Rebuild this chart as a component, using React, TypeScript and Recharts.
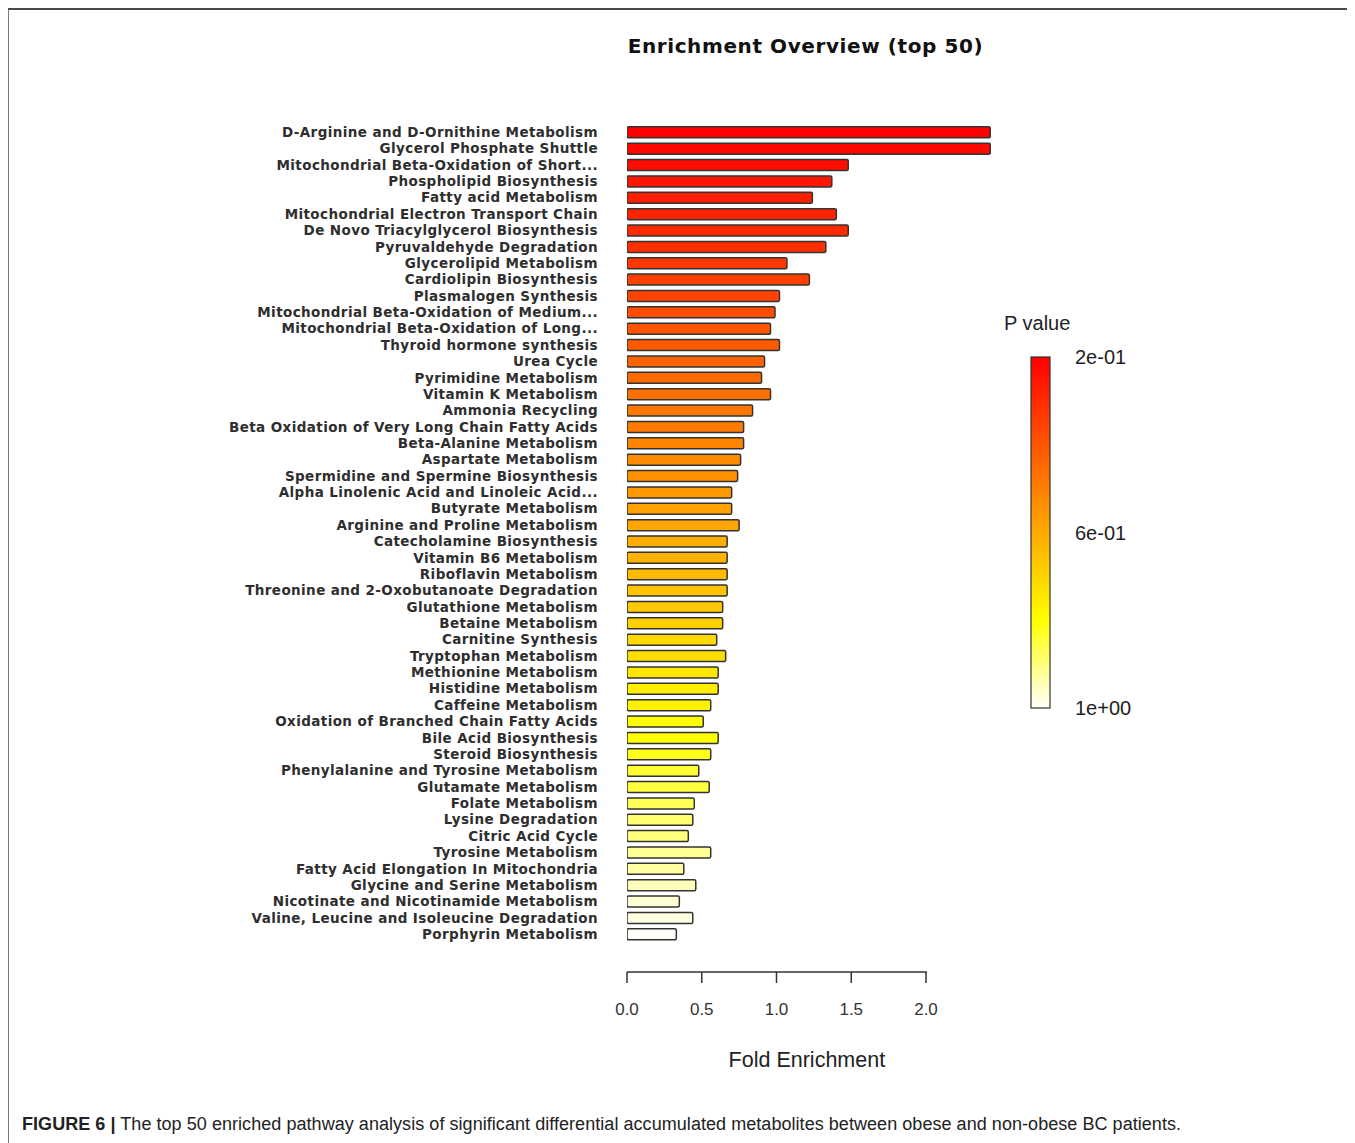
import React from 'react'
import { Bar, BarChart, Cell, XAxis, YAxis } from 'recharts'

const pathways = [
  'D-Arginine and D-Ornithine Metabolism',
  'Glycerol Phosphate Shuttle',
  'Mitochondrial Beta-Oxidation of Short...',
  'Phospholipid Biosynthesis',
  'Fatty acid Metabolism',
  'Mitochondrial Electron Transport Chain',
  'De Novo Triacylglycerol Biosynthesis',
  'Pyruvaldehyde Degradation',
  'Glycerolipid Metabolism',
  'Cardiolipin Biosynthesis',
  'Plasmalogen Synthesis',
  'Mitochondrial Beta-Oxidation of Medium...',
  'Mitochondrial Beta-Oxidation of Long...',
  'Thyroid hormone synthesis',
  'Urea Cycle',
  'Pyrimidine Metabolism',
  'Vitamin K Metabolism',
  'Ammonia Recycling',
  'Beta Oxidation of Very Long Chain Fatty Acids',
  'Beta-Alanine Metabolism',
  'Aspartate Metabolism',
  'Spermidine and Spermine Biosynthesis',
  'Alpha Linolenic Acid and Linoleic Acid...',
  'Butyrate Metabolism',
  'Arginine and Proline Metabolism',
  'Catecholamine Biosynthesis',
  'Vitamin B6 Metabolism',
  'Riboflavin Metabolism',
  'Threonine and 2-Oxobutanoate Degradation',
  'Glutathione Metabolism',
  'Betaine Metabolism',
  'Carnitine Synthesis',
  'Tryptophan Metabolism',
  'Methionine Metabolism',
  'Histidine Metabolism',
  'Caffeine Metabolism',
  'Oxidation of Branched Chain Fatty Acids',
  'Bile Acid Biosynthesis',
  'Steroid Biosynthesis',
  'Phenylalanine and Tyrosine Metabolism',
  'Glutamate Metabolism',
  'Folate Metabolism',
  'Lysine Degradation',
  'Citric Acid Cycle',
  'Tyrosine Metabolism',
  'Fatty Acid Elongation In Mitochondria',
  'Glycine and Serine Metabolism',
  'Nicotinate and Nicotinamide Metabolism',
  'Valine, Leucine and Isoleucine Degradation',
  'Porphyrin Metabolism',
]

const foldEnrichment = [
  2.43, 2.43, 1.48, 1.37, 1.24, 1.40, 1.48, 1.33, 1.07, 1.22,
  1.02, 0.99, 0.96, 1.02, 0.92, 0.90, 0.96, 0.84, 0.78, 0.78,
  0.76, 0.74, 0.70, 0.70, 0.75, 0.67, 0.67, 0.67, 0.67, 0.64,
  0.64, 0.60, 0.66, 0.61, 0.61, 0.56, 0.51, 0.61, 0.56, 0.48,
  0.55, 0.45, 0.44, 0.41, 0.56, 0.38, 0.46, 0.35, 0.44, 0.33,
]

const pValues = [
  0.20, 0.22, 0.23, 0.25, 0.27, 0.28, 0.30, 0.31, 0.33, 0.35,
  0.36, 0.38, 0.40, 0.41, 0.43, 0.45, 0.46, 0.48, 0.49, 0.51,
  0.53, 0.54, 0.56, 0.58, 0.59, 0.61, 0.62, 0.64, 0.66, 0.67,
  0.69, 0.71, 0.72, 0.74, 0.76, 0.77, 0.79, 0.80, 0.82, 0.84,
  0.85, 0.87, 0.89, 0.90, 0.92, 0.93, 0.95, 0.97, 0.98, 1.00,
]

const xTicks = [0, 0.5, 1, 1.5, 2]
const legendValues = [0.2, 0.6, 1.0]
const legendLabels = ['2e-01', '6e-01', '1e+00']

const P_MIN = 0.2
const P_MAX = 1.0
const X_MAX = 2.5
const PLOT_W = 373.75

// red -> yellow -> white, like the heat palette in the original
function heatColor(p: number) {
  const t = Math.min(1, Math.max(0, (p - P_MIN) / (P_MAX - P_MIN)))
  if (t <= 0.75) {
    const g = Math.round((255 * t) / 0.75)
    return `rgb(255, ${g}, 0)`
  }
  const b = Math.round(250 * ((t - 0.75) / 0.25))
  return `rgb(255, 255, ${b})`
}

const data = pathways.map((name, i) => ({ name, value: foldEnrichment[i], p: pValues[i] }))

const labelFont = '"DejaVu Sans", Verdana, sans-serif'
const plainFont = '"Liberation Sans", Arial, sans-serif'

function PathwayTick({ x, y, payload }: any) {
  return (
    <text
      x={x}
      y={y}
      textAnchor="end"
      dominantBaseline="central"
      fontFamily={labelFont}
      fontWeight={700}
      fontSize={13.5}
      letterSpacing={0.4}
      fill="#2e2e2e"
    >
      {payload.value}
    </text>
  )
}

export default function App() {
  const axisLen = (2 / X_MAX) * PLOT_W + 1
  const barTop = 349
  const barH = 351
  const legendY = (p: number) => barTop + ((p - P_MIN) / (P_MAX - P_MIN)) * barH

  return (
    <div style={{ position: 'relative', width: 1347, height: 1135, fontFamily: plainFont }}>
      <div
        style={{
          position: 'absolute',
          left: -1,
          top: 0,
          width: 1360,
          height: 1140,
          borderTop: '2px solid #4a4a4a',
          borderLeft: '2px solid #7a7a7a',
          boxSizing: 'border-box',
        }}
      />
      <div
        style={{
          position: 'absolute',
          left: 797.5,
          top: 26,
          transform: 'translateX(-50%)',
          whiteSpace: 'nowrap',
          fontFamily: labelFont,
          fontWeight: 700,
          fontSize: 20,
          letterSpacing: 0.6,
          color: '#111',
        }}
      >
        Enrichment Overview (top 50)
      </div>

      <div style={{ position: 'absolute', left: 0, top: 0 }}>
        <BarChart
          width={1100}
          height={1064}
          data={data}
          layout="vertical"
          margin={{ top: 115.8, right: 107.25, left: 0, bottom: 0 }}
        >
          <XAxis
            type="number"
            domain={[0, X_MAX]}
            ticks={xTicks}
            allowDataOverflow
            height={100}
            axisLine={{ stroke: '#333', strokeWidth: 1.5, strokeDasharray: `${axisLen} 3000` }}
            tickLine={{ stroke: '#333', strokeWidth: 1.5 }}
            tickSize={11}
            tickMargin={20}
            tickFormatter={(v: number) => v.toFixed(1)}
            tick={{ fontSize: 17, fill: '#333', fontFamily: plainFont }}
            label={{
              value: 'Fold Enrichment',
              position: 'insideBottom',
              offset: 5,
              dx: -7,
              fontSize: 21.5,
              fill: '#222',
              fontFamily: plainFont,
            }}
          />
          <YAxis
            type="category"
            dataKey="name"
            width={619}
            axisLine={false}
            tickLine={false}
            tickSize={0}
            tickMargin={29}
            interval={0}
            padding={{ top: 0, bottom: 29.8 }}
            tick={<PathwayTick />}
          />
          <Bar dataKey="value" barSize={11} stroke="#333" strokeWidth={1.5} radius={1.5} isAnimationActive={false}>
            {data.map((d) => (
              <Cell key={d.name} fill={heatColor(d.p)} />
            ))}
          </Bar>
        </BarChart>
      </div>

      <svg
        width={1347}
        height={1135}
        style={{ position: 'absolute', left: 0, top: 0, pointerEvents: 'none' }}
      >
        <defs>
          <linearGradient id="pgrad" x1="0" y1="0" x2="0" y2="1">
            {[0, 0.125, 0.25, 0.375, 0.5, 0.625, 0.75, 0.875, 1].map((s) => (
              <stop key={s} offset={s} stopColor={heatColor(P_MIN + s * (P_MAX - P_MIN))} />
            ))}
          </linearGradient>
        </defs>
        <text x={996} y={315} dominantBaseline="central" fontSize={20} fill="#222" fontFamily={plainFont}>
          P value
        </text>
        <rect x={1023} y={barTop} width={19} height={barH} fill="url(#pgrad)" stroke="#333" strokeWidth={1.2} />
        {legendValues.map((v, i) => (
          <text
            key={legendLabels[i]}
            x={1067}
            y={legendY(v)}
            dominantBaseline="central"
            fontSize={20}
            fill="#222"
            fontFamily={plainFont}
          >
            {legendLabels[i]}
          </text>
        ))}
      </svg>

      <div
        style={{
          position: 'absolute',
          left: 14,
          top: 1106,
          whiteSpace: 'nowrap',
          fontSize: 18,
          letterSpacing: 0.05,
          color: '#222',
          fontFamily: plainFont,
        }}
      >
        <b>FIGURE 6 |</b> The top 50 enriched pathway analysis of significant differential accumulated metabolites between obese and non-obese BC patients.
      </div>
    </div>
  )
}
